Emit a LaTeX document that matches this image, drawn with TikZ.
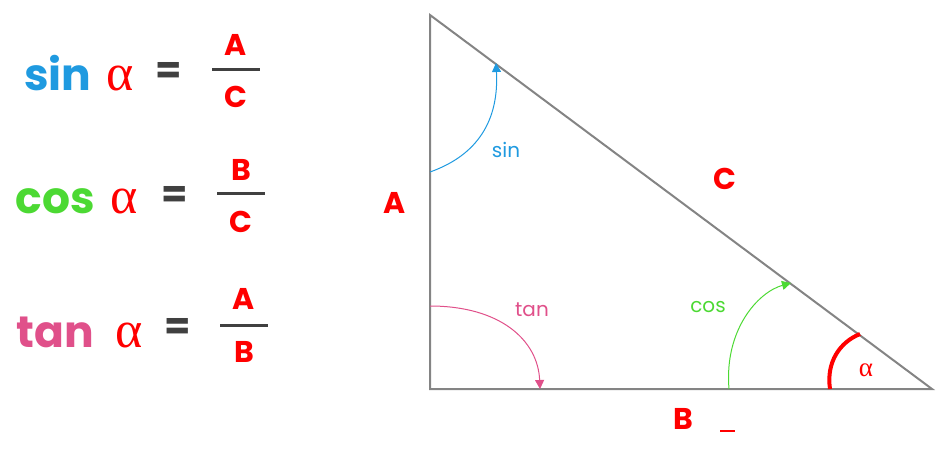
\documentclass[tikz,border=0pt]{standalone}
\usepackage{fontspec}
\setmainfont{Poppins}
\newfontfamily\grk{Liberation Serif}
\usetikzlibrary{arrows.meta}
\definecolor{sinc}{HTML}{1F9AE0}
\definecolor{cosc}{HTML}{4CD933}
\definecolor{tanc}{HTML}{E0508A}
\definecolor{redc}{HTML}{FF0000}
\definecolor{grayc}{HTML}{848484}
\definecolor{eqc}{HTML}{404040}
\tikzset{
  fn/.style={inner sep=0pt, font=\fontsize{44}{44}\selectfont\bfseries},
  al/.style={inner sep=0pt, text=redc, font=\fontsize{52}{52}\selectfont\grk},
  eq/.style={inner sep=0pt, text=eqc, font=\fontsize{38}{38}\selectfont\bfseries},
  lt/.style={inner sep=0pt, text=redc, font=\fontsize{30}{30}\selectfont\bfseries},
  bar/.style={eqc, line width=3pt},
  small/.style={inner sep=0pt, font=\fontsize{20}{20}\selectfont},
  arcarrow/.style={line width=1pt, -{Triangle[length=9pt,width=9pt]}}
}
\begin{document}
\begin{tikzpicture}[x=1pt,y=-1pt]
\useasboundingbox (0,0) rectangle (940,458);
% formulas
\node[fn, text=sinc, anchor=base] (s1) at (58,90) {sin};
\node[al, anchor=base] (a1) at (120,90) {α};
\node[eq] (e1) at (169,73) {=};
\node[lt] (n1) at (236,45) {A};
\coordinate (b1l) at (212,69); \coordinate (b1r) at (260,69);
\draw[bar] (b1l) -- (b1r);
\node[lt] (d1) at (236,97) {C};

\node[fn, text=cosc, anchor=base] (s2) at (55,213) {cos};
\node[al, anchor=base] (a2) at (124,213) {α};
\node[eq] (e2) at (175,197) {=};
\node[lt] (n2) at (241,170) {B};
\coordinate (b2l) at (217,193); \coordinate (b2r) at (265,193);
\draw[bar] (b2l) -- (b2r);
\node[lt] (d2) at (241,222) {C};

\node[fn, text=tanc, anchor=base] (s3) at (55,347) {tan};
\node[al, anchor=base] (a3) at (129,347) {α};
\node[eq] (e3) at (178,329) {=};
\node[lt] (n3) at (244,299) {A};
\coordinate (b3l) at (220,325); \coordinate (b3r) at (268,325);
\draw[bar] (b3l) -- (b3r);
\node[lt] (d3) at (244,352) {B};

% triangle
\coordinate (P) at (430,15);
\coordinate (Q) at (430,389);
\coordinate (R) at (932,389);
\draw[grayc, line width=2pt] (P) -- (Q) -- (R) -- cycle;

\node[lt] (lA) at (395,203) {A};
\node[lt] (lC) at (725,179) {C};
\node[lt] (lB) at (683,419) {B};
\coordinate (dl) at (720,431); \coordinate (dr) at (735,431);
\draw[redc, line width=2.5pt] (dl) -- (dr);

% sin arc
\coordinate (sA) at (430,172); \coordinate (sB) at (496,63);
\draw[sinc, arcarrow] (sA) .. controls (478,155) and (499,120) .. (sB);
\node[small, text=sinc] (ls) at (506,150) {sin};

% tan arc
\coordinate (tA) at (430,306); \coordinate (tB) at (540,389);
\draw[tanc, arcarrow] (tA) .. controls (500,306) and (538,340) .. (tB);
\node[small, text=tanc] (lt) at (532,310) {tan};

% cos arc
\coordinate (cA) at (729,389); \coordinate (cB) at (791,283);
\draw[cosc, arcarrow] (cA) .. controls (724,330) and (758,292) .. (cB);
\node[small, text=cosc] (lc) at (708,307) {cos};

% alpha arc
\coordinate (aA) at (830,389); \coordinate (aB) at (860,334);
\draw[redc, line width=4pt] (aA) .. controls (826,362) and (840,342) .. (aB);
\node[inner sep=0pt, text=redc, font=\fontsize{27}{27}\selectfont\grk] (la) at (866,370) {α};
\end{tikzpicture}
\end{document}
